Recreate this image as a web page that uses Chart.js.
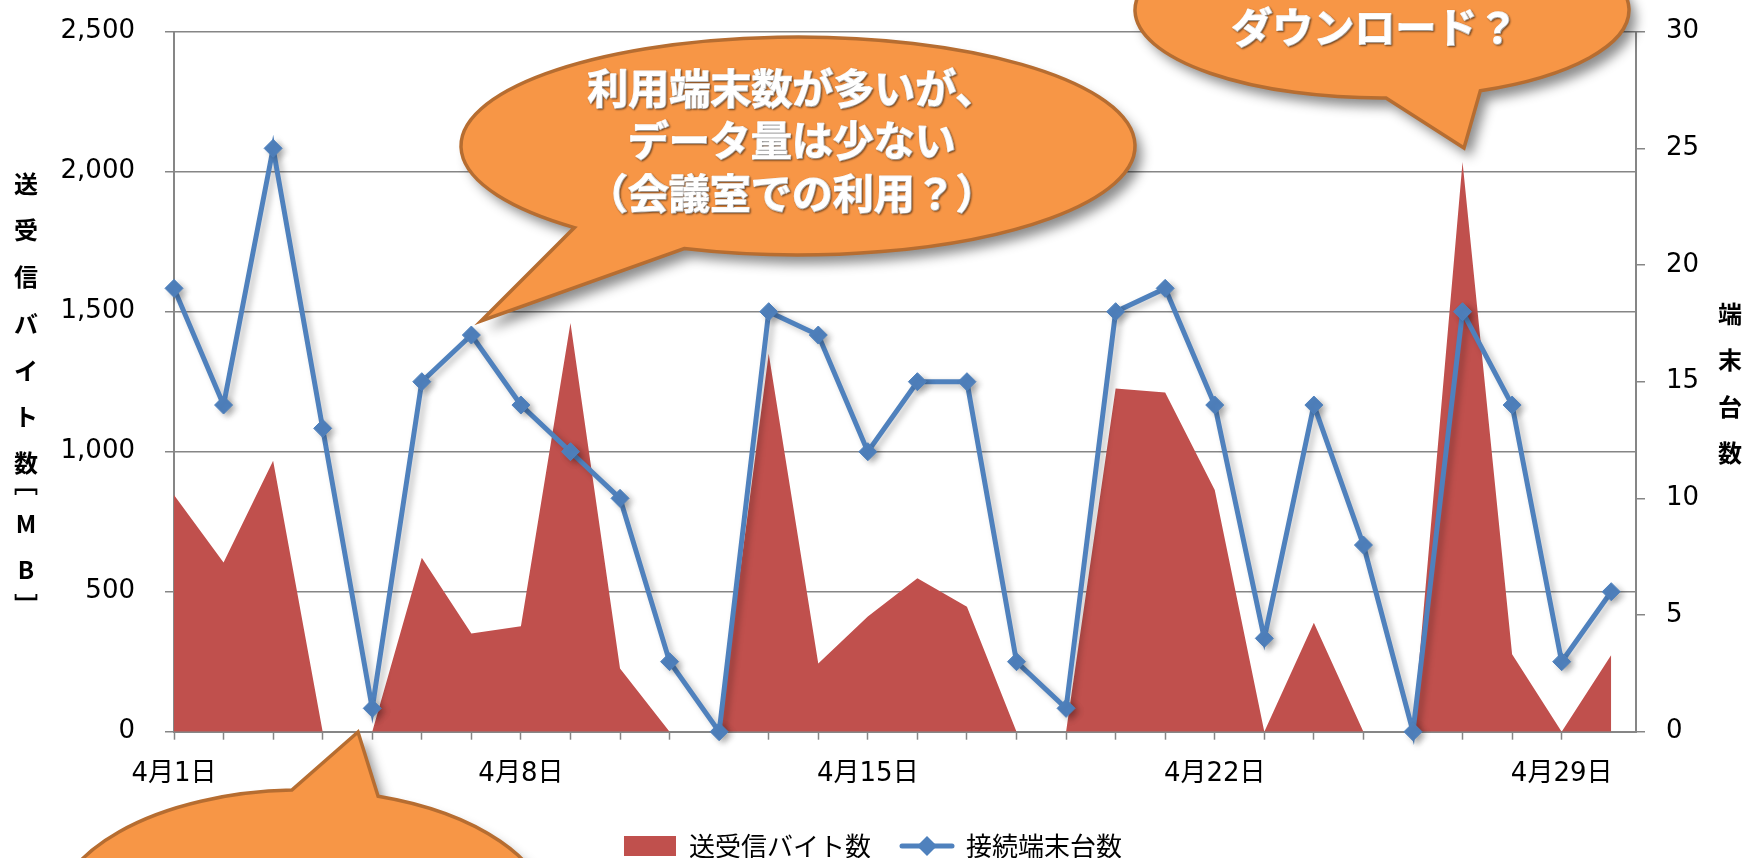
<!DOCTYPE html>
<html lang="ja">
<head>
<meta charset="utf-8">
<title>送受信バイト数と接続端末台数</title>
<script src="https://cdn.jsdelivr.net/npm/chart.js@4.4.1/dist/chart.umd.min.js"></script>
<style>
  html, body { margin: 0; padding: 0; background: #fff; overflow: hidden; }
  #wrap { position: relative; width: 1746px; height: 869px; }
</style>
</head>
<body>
<div id="wrap"><canvas id="chart"></canvas></div>
<script>
// 日付（カテゴリ）
const days = ['4月1日', '4月2日', '4月3日', '4月4日', '4月5日', '4月6日', '4月7日', '4月8日', '4月9日', '4月10日',
  '4月11日', '4月12日', '4月13日', '4月14日', '4月15日', '4月16日', '4月17日', '4月18日', '4月19日', '4月20日',
  '4月21日', '4月22日', '4月23日', '4月24日', '4月25日', '4月26日', '4月27日', '4月28日', '4月29日', '4月30日'];
// 軸に表示する日付ラベル
const shownDays = ['4月1日', '4月8日', '4月15日', '4月22日', '4月29日'];

// 送受信バイト数 [MB]
const bytesMB = [845, 604, 968, 0, 0, 621, 351, 377, 1460, 226,
  0, 0, 1350, 244, 411, 548, 446, 0, 0, 1226,
  1211, 863, 0, 389, 0, 0, 2035, 277, 0, 274];
// 接続端末台数
const devices = [19, 14, 25, 13, 1, 15, 17, 14, 12, 10,
  3, 0, 18, 17, 12, 15, 15, 3, 1, 18,
  19, 14, 4, 14, 8, 0, 18, 14, 3, 6];

const seriesNames = ['送受信バイト数', '接続端末台数'];
const leftTitle = ['送', '受', '信', 'バ', 'イ', 'ト', '数', '﹇', 'M', 'B', '﹈'];
const rightTitle = ['端', '末', '台', '数'];

// 吹き出しの文言
const calloutMiddle = ['利用端末数が多いが、', 'データ量は少ない', '（会議室での利用？）'];
const calloutTopRight = ['ダウンロード？'];

const FONT = "'DejaVu Sans', 'Noto Sans CJK JP', sans-serif";
const CJK = "'Noto Sans CJK JP', sans-serif";
const GRID = '#868686';
const RED = '#C0504D';
const BLUE = '#4F81BD';

// 凡例用：線＋ひし形マーカー
const lineIcon = document.createElement('canvas');
lineIcon.width = 56; lineIcon.height = 22;
(() => {
  const c = lineIcon.getContext('2d');
  c.strokeStyle = BLUE; c.fillStyle = BLUE; c.lineWidth = 5; c.lineCap = 'round';
  c.beginPath(); c.moveTo(3, 11); c.lineTo(53, 11); c.stroke();
  c.beginPath(); c.moveTo(28, 1); c.lineTo(38, 11); c.lineTo(28, 21); c.lineTo(18, 11); c.closePath(); c.fill();
})();

// 系列の影
const shadowPlugin = {
  id: 'seriesShadow',
  beforeDatasetDraw(chart, args) {
    const c = chart.ctx;
    c.save();
    c.shadowColor = args.index === 0 ? 'rgba(0,0,0,0.35)' : 'rgba(0,0,0,0.25)';
    c.shadowBlur = 6;
    c.shadowOffsetX = 4;
    c.shadowOffsetY = 3;
  },
  afterDatasetDraw(chart) {
    chart.ctx.restore();
  }
};

// 縦書きの軸タイトル（文字の実寸の中心で揃える）
function drawStacked(c, chars, x, ys) {
  c.save();
  c.fillStyle = '#000';
  c.font = 'bold 24px ' + CJK;
  c.textAlign = 'center';
  c.textBaseline = 'alphabetic';
  chars.forEach((ch, i) => {
    const m = c.measureText(ch);
    c.fillText(ch, x, ys[i] + (m.actualBoundingBoxAscent - m.actualBoundingBoxDescent) / 2);
  });
  c.restore();
}

// 吹き出し（楕円＋しっぽ）
const callouts = [
  { cx: 302, cy: 920, rx: 249, ry: 130, base1: [292, 792], base2: [377, 798], tip: [358, 732], lines: [], tx: 302, ty: [] },
  { cx: 798, cy: 146, rx: 337, ry: 109, base1: [576, 227], base2: [686, 247], tip: [481, 321], lines: calloutMiddle, tx: 792, ty: [88, 140, 193] },
  { cx: 1382, cy: 10, rx: 247, ry: 88, base1: [1386, 97], base2: [1477, 88], tip: [1464, 148], lines: calloutTopRight, tx: 1375, ty: [27] }
];

function bubblePath(c, b) {
  const t1 = Math.atan2((b.base1[1] - b.cy) / b.ry, (b.base1[0] - b.cx) / b.rx);
  const t2 = Math.atan2((b.base2[1] - b.cy) / b.ry, (b.base2[0] - b.cx) / b.rx);
  let d = t2 - t1;
  while (d < 0) d += 2 * Math.PI;
  c.beginPath();
  c.moveTo(b.tip[0], b.tip[1]);
  c.lineTo(b.cx + b.rx * Math.cos(t1), b.cy + b.ry * Math.sin(t1));
  c.ellipse(b.cx, b.cy, b.rx, b.ry, 0, t1, t2, d < Math.PI);
  c.closePath();
}

const annotatePlugin = {
  id: 'annotate',
  afterDraw(chart) {
    const c = chart.ctx;
    drawStacked(c, leftTitle, 26, [184, 230, 277, 323, 370, 417, 463, 491, 524, 570, 597]);
    drawStacked(c, rightTitle, 1730, [314, 360, 407, 453]);

    callouts.forEach(b => {
      c.save();
      bubblePath(c, b);
      c.shadowColor = 'rgba(0,0,0,0.45)';
      c.shadowBlur = 12;
      c.shadowOffsetX = 7;
      c.shadowOffsetY = 9;
      c.fillStyle = '#F79646';
      c.fill();
      c.restore();

      c.save();
      bubblePath(c, b);
      c.lineWidth = 3.5;
      c.strokeStyle = '#B66D31';
      c.lineJoin = 'miter';
      c.stroke();
      c.restore();

      c.save();
      c.font = 'bold 41px ' + CJK;
      c.fillStyle = '#fff';
      c.strokeStyle = '#fff';
      c.lineWidth = 1.6;
      c.lineJoin = 'round';
      c.textAlign = 'center';
      c.textBaseline = 'middle';
      c.shadowColor = 'rgba(0,0,0,0.45)';
      c.shadowBlur = 2;
      c.shadowOffsetX = 1;
      c.shadowOffsetY = 1;
      b.lines.forEach((t, i) => {
        c.strokeText(t, b.tx, b.ty[i]);
        c.fillText(t, b.tx, b.ty[i]);
      });
      c.restore();
    });
  }
};

const tickFont = { family: FONT, size: 26 };

// 縦軸の幅を固定し、ラベルのはみ出し分の余白を消す
const fixYAxis = width => s => {
  s.width = width;
  s.paddingTop = 0;
  s.paddingBottom = 0;
};

new Chart(document.getElementById('chart'), {
  type: 'line',
  data: {
    datasets: [
      {
        label: seriesNames[0],
        data: bytesMB.map((v, i) => ({ x: i, y: v })),
        yAxisID: 'y',
        fill: 'origin',
        backgroundColor: RED,
        borderColor: RED,
        borderWidth: 0,
        pointRadius: 0,
        pointHoverRadius: 0,
        tension: 0,
        order: 2
      },
      {
        label: seriesNames[1],
        data: devices.map((v, i) => ({ x: i, y: v })),
        yAxisID: 'y1',
        fill: false,
        borderColor: BLUE,
        backgroundColor: BLUE,
        borderWidth: 5,
        pointStyle: 'rectRot',
        pointRadius: 9,
        pointBorderWidth: 1,
        pointBackgroundColor: BLUE,
        pointBorderColor: BLUE,
        tension: 0,
        clip: false,
        order: 1
      }
    ]
  },
  options: {
    responsive: true,
    maintainAspectRatio: false,
    animation: false,
    events: [],
    layout: { padding: { top: 31.7, left: 0, right: 0, bottom: 0 } },
    scales: {
      x: {
        type: 'linear',
        min: 0,
        max: 29.5,
        offset: false,
        grid: {
          drawOnChartArea: false,
          drawTicks: true,
          tickLength: 8,
          tickWidth: 1.5,
          tickColor: ctx => (ctx.tick && Number.isInteger(ctx.tick.value)) ? GRID : 'rgba(0,0,0,0)'
        },
        border: { color: GRID, width: 2 },
        ticks: {
          stepSize: 1,
          autoSkip: false,
          maxRotation: 0,
          padding: 19,
          color: '#000',
          font: tickFont,
          callback: v => { const d = days[v]; return shownDays.includes(d) ? d : ''; }
        },
        afterFit: s => { s.height = 71.3; }
      },
      y: {
        position: 'left',
        min: 0,
        max: 2500,
        grid: { color: GRID, lineWidth: 1.5, tickLength: 9 },
        border: { color: GRID, width: 2 },
        ticks: {
          stepSize: 500,
          padding: 30,
          color: '#000',
          font: tickFont,
          callback: v => v.toLocaleString('en-US')
        },
        afterFit: fixYAxis(174)
      },
      y1: {
        position: 'right',
        min: 0,
        max: 30,
        grid: { drawOnChartArea: false, color: GRID, lineWidth: 1.5, tickLength: 9 },
        border: { color: GRID, width: 2 },
        ticks: {
          stepSize: 5,
          padding: 21,
          color: '#000',
          font: tickFont
        },
        afterFit: fixYAxis(110)
      }
    },
    plugins: {
      tooltip: { enabled: false },
      legend: {
        position: 'bottom',
        labels: {
          usePointStyle: true,
          pointStyleWidth: 52,
          boxHeight: 20,
          padding: 30,
          color: '#000',
          font: { family: CJK, size: 26 },
          generateLabels: chart => chart.data.datasets.map((ds, i) => ({
            text: ds.label,
            datasetIndex: i,
            fillStyle: i === 0 ? RED : BLUE,
            strokeStyle: i === 0 ? RED : BLUE,
            lineWidth: 0,
            pointStyle: i === 0 ? 'rect' : lineIcon,
            rotation: 0,
            fontColor: '#000',
            hidden: false
          }))
        }
      }
    }
  },
  plugins: [shadowPlugin, annotatePlugin]
});
</script>
</body>
</html>
